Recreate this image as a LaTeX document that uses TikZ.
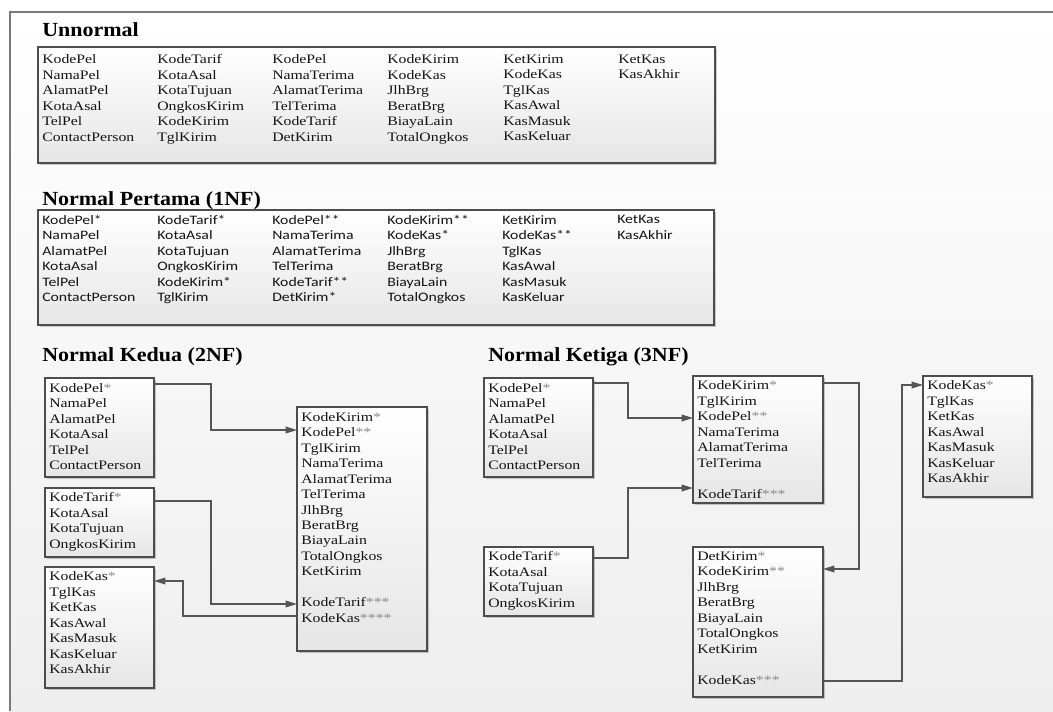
\documentclass[tikz,border=0pt]{standalone}
\usepackage{fontspec}
\setmainfont{Liberation Serif}
\newfontfamily\titlefont{Liberation Serif}[FakeStretch=1.1]
\newfontfamily\serifbox{Liberation Serif}[FakeStretch=1.22]
\newfontfamily\sansbox{Carlito}[FakeStretch=1.22]
\usetikzlibrary{calc,shadows,arrows.meta}
\definecolor{framegray}{HTML}{7A7A7A}
\definecolor{bgshade}{HTML}{EEEEEE}
\definecolor{boxline}{HTML}{4D4D4D}
\definecolor{boxshade}{HTML}{E6E6E6}
\definecolor{linkgray}{HTML}{555555}
\definecolor{ink}{HTML}{141414}
\definecolor{stargray}{HTML}{8A8A8A}
\newcommand\gs[1]{\textcolor{stargray}{#1}}
\begin{document}
\begin{tikzpicture}[x=0.75pt,y=-0.75pt,
  tbl/.style={draw=boxline, line width=0.9pt, top color=white, bottom color=boxshade,
    drop shadow={shadow xshift=1.6pt, shadow yshift=-1.6pt, fill=black, opacity=0.2},
    inner sep=0pt, outer sep=0pt, anchor=north west},
  tsize/.style 2 args={minimum width=#1*0.75pt, minimum height=#2*0.75pt},
  cell/.style={anchor=north west, inner sep=0pt, align=left, text=ink,
    font=\serifbox\fontsize{9.7}{11.6}\selectfont},
  cellsans/.style={cell, font=\sansbox\fontsize{9.7}{11.6}\selectfont},
  heading/.style={anchor=base west, inner sep=0pt, text=black,
    font=\titlefont\bfseries\fontsize{15}{18}\selectfont},
  link/.style={draw=linkgray, line width=1pt},
  tip/.style={-{Triangle[length=8.5pt,width=5pt]}}]

\useasboundingbox (0,0) rectangle (1053,711);
\fill[white] (0,0) rectangle (1053,711);
\shade[top color=white, bottom color=bgshade] (10,12) rectangle (1053,711);
\draw[framegray, line width=0.9pt] (10,711) -- (10,12) -- (1053,12);

% ---------------- Unnormal ----------------
\node[heading] (hu) at (42,36) {Unnormal};
\node[tbl, tsize={677}{116}] (ub) at (38,47) {};
\node[cell] (u1) at ($(ub.north west)+(4,7.5)$) {KodePel\\NamaPel\\AlamatPel\\KotaAsal\\TelPel\\ContactPerson};
\node[cell] (u2) at ($(ub.north west)+(119,7.5)$) {KodeTarif\\KotaAsal\\KotaTujuan\\OngkosKirim\\KodeKirim\\TglKirim};
\node[cell] (u3) at ($(ub.north west)+(234,7.5)$) {KodePel\\NamaTerima\\AlamatTerima\\TelTerima\\KodeTarif\\DetKirim};
\node[cell] (u4) at ($(ub.north west)+(349,7.5)$) {KodeKirim\\KodeKas\\JlhBrg\\BeratBrg\\BiayaLain\\TotalOngkos};
\node[cell] (u5) at ($(ub.north west)+(465,7.5)$) {KetKirim\\KodeKas\\TglKas\\KasAwal\\KasMasuk\\KasKeluar};
\node[cell] (u6) at ($(ub.north west)+(580,7.5)$) {KetKas\\KasAkhir};

% ---------------- 1NF ----------------
\node[heading] (h1) at (42,205) {Normal Pertama (1NF)};
\node[tbl, tsize={676}{115}] (nb) at (38,210) {};
\node[cellsans] (n1) at ($(nb.north west)+(4,5)$) {KodePel*\\NamaPel\\AlamatPel\\KotaAsal\\TelPel\\ContactPerson};
\node[cellsans] (n2) at ($(nb.north west)+(119,5)$) {KodeTarif*\\KotaAsal\\KotaTujuan\\OngkosKirim\\KodeKirim*\\TglKirim};
\node[cellsans] (n3) at ($(nb.north west)+(234,5)$) {KodePel**\\NamaTerima\\AlamatTerima\\TelTerima\\KodeTarif**\\DetKirim*};
\node[cellsans] (n4) at ($(nb.north west)+(349,5)$) {KodeKirim**\\KodeKas*\\JlhBrg\\BeratBrg\\BiayaLain\\TotalOngkos};
\node[cellsans] (n5) at ($(nb.north west)+(464,5)$) {KetKirim\\KodeKas**\\TglKas\\KasAwal\\KasMasuk\\KasKeluar};
\node[cellsans] (n6) at ($(nb.north west)+(579,5)$) {KetKas\\KasAkhir};

% ---------------- 2NF ----------------
\node[heading] (h2) at (42,361) {Normal Kedua (2NF)};
\node[tbl, tsize={109}{99}] (p2) at (45,378) {};
\node[cell] (p2t) at ($(p2.north west)+(4,5)$) {KodePel\gs{*}\\NamaPel\\AlamatPel\\KotaAsal\\TelPel\\ContactPerson};
\node[tbl, tsize={109}{69}] (t2) at (45,488) {};
\node[cell] (t2t) at ($(t2.north west)+(4,4.5)$) {KodeTarif\gs{*}\\KotaAsal\\KotaTujuan\\OngkosKirim};
\node[tbl, tsize={109}{121}] (s2) at (45,567) {};
\node[cell] (s2t) at ($(s2.north west)+(4,4.5)$) {KodeKas\gs{*}\\TglKas\\KetKas\\KasAwal\\KasMasuk\\KasKeluar\\KasAkhir};
\node[tbl, tsize={130}{244}] (k2) at (297,407) {};
\node[cell] (k2t) at ($(k2.north west)+(4,5)$) {KodeKirim\gs{*}\\KodePel\gs{**}\\TglKirim\\NamaTerima\\AlamatTerima\\TelTerima\\JlhBrg\\BeratBrg\\BiayaLain\\TotalOngkos\\KetKirim\\[11.6pt]KodeTarif\gs{***}\\KodeKas\gs{****}};

\draw[link,tip] ($(p2.north east)+(0,6)$) -- ++(57,0) |- ($(k2.north west)+(0,23)$);
\draw[link,tip] ($(t2.north east)+(0,13)$) -- ++(57,0) |- ($(k2.north west)+(0,197)$);
\draw[link,tip] ($(k2.north west)+(0,209)$) -- ++(-114,0) |- ($(s2.north east)+(0,14)$);

% ---------------- 3NF ----------------
\node[heading] (h3) at (488,361) {Normal Ketiga (3NF)};
\node[tbl, tsize={109}{99}] (p3) at (484,378) {};
\node[cell] (p3t) at ($(p3.north west)+(4,5)$) {KodePel\gs{*}\\NamaPel\\AlamatPel\\KotaAsal\\TelPel\\ContactPerson};
\node[tbl, tsize={130}{127}] (k3) at (693,376) {};
\node[cell] (k3t) at ($(k3.north west)+(4,4.5)$) {KodeKirim\gs{*}\\TglKirim\\KodePel\gs{**}\\NamaTerima\\AlamatTerima\\TelTerima\\[11.6pt]KodeTarif\gs{***}};
\node[tbl, tsize={109}{121}] (s3) at (923,376) {};
\node[cell] (s3t) at ($(s3.north west)+(4,4.5)$) {KodeKas\gs{*}\\TglKas\\KetKas\\KasAwal\\KasMasuk\\KasKeluar\\KasAkhir};
\node[tbl, tsize={109}{69}] (t3) at (484,547) {};
\node[cell] (t3t) at ($(t3.north west)+(4,4.5)$) {KodeTarif\gs{*}\\KotaAsal\\KotaTujuan\\OngkosKirim};
\node[tbl, tsize={130}{150}] (d3) at (693,547) {};
\node[cell] (d3t) at ($(d3.north west)+(4,4.5)$) {DetKirim\gs{*}\\KodeKirim\gs{**}\\JlhBrg\\BeratBrg\\BiayaLain\\TotalOngkos\\KetKirim\\[11.6pt]KodeKas\gs{***}};

\draw[link,tip] ($(p3.north east)+(0,5)$) -- ++(35,0) |- ($(k3.north west)+(0,42)$);
\draw[link,tip] ($(t3.north east)+(0,11)$) -- ++(35,0) |- ($(k3.north west)+(0,112)$);
\draw[link,tip] ($(k3.north east)+(0,7)$) -- ++(36,0) |- ($(d3.north east)+(0,22)$);
\draw[link,tip] ($(d3.north east)+(0,134)$) -- ++(79,0) |- ($(s3.north west)+(0,9)$);
\end{tikzpicture}
\end{document}
